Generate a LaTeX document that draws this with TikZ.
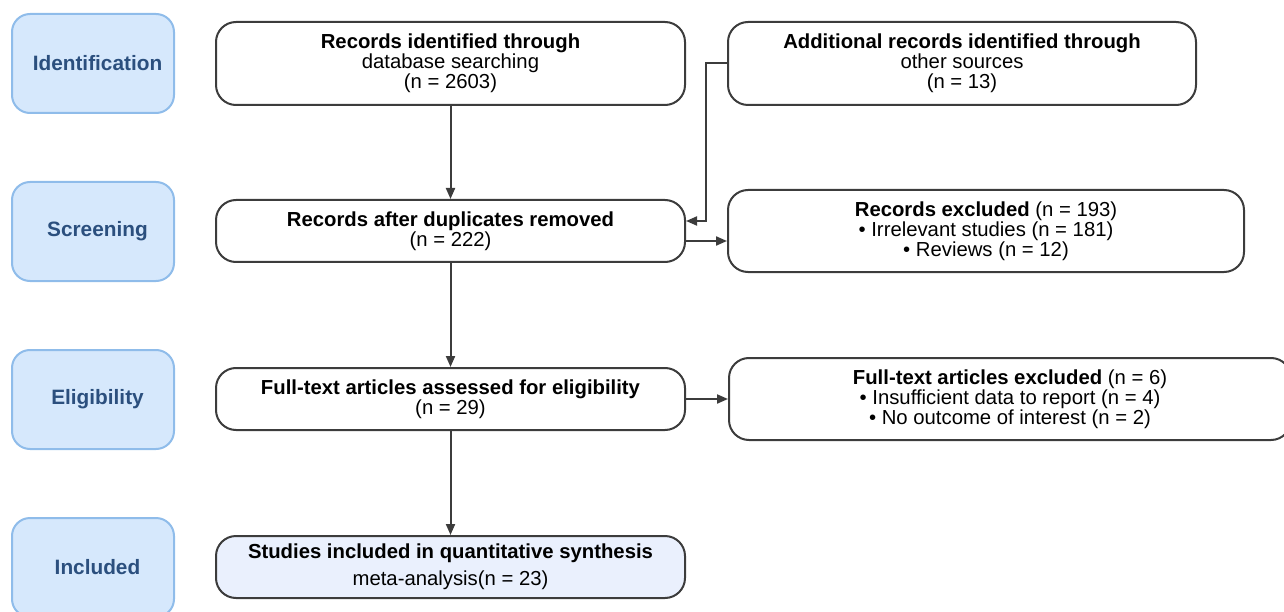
\documentclass[tikz,border=0pt]{standalone}
\usepackage{fontspec}
\setmainfont{Liberation Sans}
\usepackage{xcolor}
\usepackage{tikz}
\usetikzlibrary{arrows.meta,positioning,calc}
\definecolor{phasefill}{HTML}{D6E8FC}
\definecolor{phaseline}{HTML}{8FBCEA}
\definecolor{phasetext}{HTML}{2B4F7E}
\definecolor{boxline}{HTML}{3C3C3C}
\definecolor{incfill}{HTML}{EAF0FD}

\begin{document}
\begin{tikzpicture}[
          x=1pt, y=-1pt,
          font=\fontsize{20.3}{20}\selectfont,
          phase/.style={draw=phaseline, line width=2pt, fill=phasefill, rounded corners=18pt,
                        minimum width=162pt, minimum height=99pt, inner sep=0pt,
                        text=phasetext, font=\fontsize{20.8}{20}\selectfont\bfseries,
                        execute at begin node=\hspace{9pt}},
          stage/.style={draw=boxline, line width=2pt, fill=white, rounded corners=20pt,
                        minimum width=469pt, inner sep=0pt, align=center},
          arr/.style={draw=boxline, line width=2pt, -{Triangle[length=11pt,width=9pt]}}
      ]
        \useasboundingbox (0,0) rectangle (1284,612);

        % phases
        \node[phase] (pid)  at (93,63.5)  {Identification};
        \node[phase] (pscr) at (93,231.5) {Screening};
        \node[phase] (pelg) at (93,399.5) {Eligibility};
        \node[phase] (pinc) at (93,567.5) {Included};

        % boxes
        \node[stage, minimum height=83pt] (db) at (450.5,63.5)
            {\textbf{Records identified through}\\database searching\\(n = 2603)};
        \node[stage, minimum height=83pt, minimum width=468pt] (other) at (962,63.5)
            {\textbf{Additional records identified through}\\other sources\\(n = 13)};
        \node[stage, minimum height=62pt] (dup) at (450.5,231)
            {\textbf{Records after duplicates removed}\\(n = 222)};
        \node[stage, minimum height=82pt, minimum width=516pt] (excl) at (986,231)
            {\textbf{Records excluded} (n = 193)\\\textbullet{} Irrelevant studies (n = 181)\\\textbullet{} Reviews (n = 12)};
        \node[stage, minimum height=62pt] (full) at (450.5,399)
            {\textbf{Full-text articles assessed for eligibility}\\(n = 29)};
        \node[stage, minimum height=82pt, minimum width=562pt] (ftex) at (1010,399)
            {\textbf{Full-text articles excluded} (n = 6)\\\textbullet{} Insufficient data to report (n = 4)\\\textbullet{} No outcome of interest (n = 2)};
        \node[stage, minimum height=62pt, fill=incfill] (incl) at (450.5,567)
            {\textbf{Studies included in quantitative synthesis}\\[7pt]meta-analysis(n = 23)};

        % connectors
        \draw[arr] (db) -- (dup);
        \draw[arr] (other.west) -- ++(-21,0) |- ([yshift=10pt]dup.east);
        \draw[arr] ([yshift=-10pt]dup.east) -- ([yshift=-10pt]dup.east -| excl.west);
        \draw[arr] (dup) -- (full);
        \draw[arr] (full.east) -- (ftex.west);
        \draw[arr] (full) -- (incl);
      \end{tikzpicture}
\end{document}
